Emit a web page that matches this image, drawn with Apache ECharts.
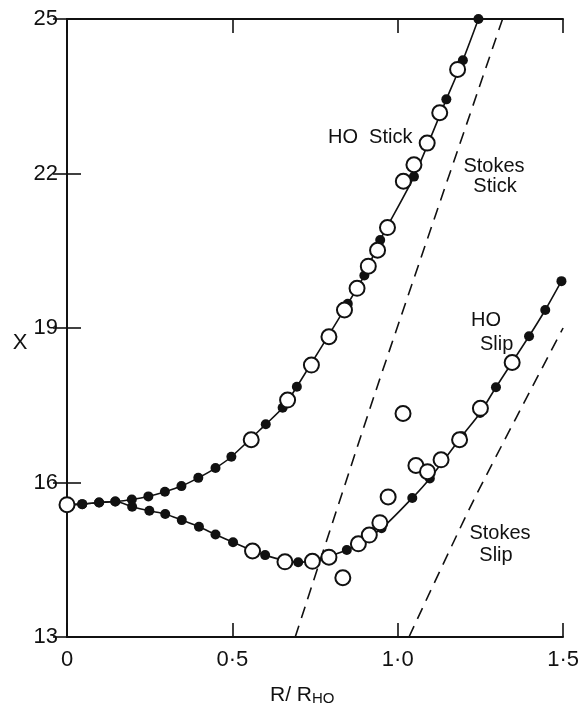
<!DOCTYPE html>
<html>
<head>
<meta charset="utf-8">
<script src="https://cdn.jsdelivr.net/npm/echarts@6/dist/echarts.min.js"></script>
<style>
html,body{margin:0;padding:0;background:#fff;}
#c{width:582px;height:703px;}
</style>
</head>
<body>
<div id="c"></div>
<script>
// Axis ticks
const xTicks = [0, 0.5, 1.0, 1.5];
const xTickLabels = ['0', '0·5', '1·0', '1·5'];
const yTicks = [13, 16, 19, 22, 25];

// Shared start of both HO curves (filled dots)
const sharedX = [0, 0.046, 0.097, 0.146];
const sharedY = [15.57, 15.58, 15.61, 15.63];

// HO Stick branch (filled dots)
const stickX = [0.196, 0.246, 0.296, 0.346, 0.397, 0.449, 0.497, 0.601, 0.652, 0.695, 0.849, 0.899, 0.947, 1.049, 1.147, 1.197, 1.244];
const stickY = [15.67, 15.73, 15.82, 15.93, 16.09, 16.28, 16.50, 17.13, 17.45, 17.86, 19.47, 20.02, 20.71, 21.94, 23.44, 24.20, 25.00];

// HO Slip branch (filled dots)
const slipX = [0.197, 0.249, 0.297, 0.347, 0.399, 0.449, 0.502, 0.599, 0.699, 0.846, 0.951, 1.044, 1.097, 1.194, 1.249, 1.297, 1.397, 1.446, 1.495];
const slipY = [15.53, 15.45, 15.39, 15.27, 15.14, 14.99, 14.84, 14.59, 14.45, 14.69, 15.11, 15.70, 16.08, 16.90, 17.35, 17.85, 18.84, 19.35, 19.91];

// Open circles near the stick branch
const openStickX = [0, 0.557, 0.667, 0.739, 0.792, 0.839, 0.877, 0.911, 0.939, 0.969, 1.017, 1.049, 1.089, 1.127, 1.181];
const openStickY = [15.57, 16.83, 17.60, 18.28, 18.83, 19.35, 19.77, 20.20, 20.51, 20.95, 21.85, 22.17, 22.59, 23.18, 24.02];

// Open circles near the slip branch
const openSlipX = [0.561, 0.659, 0.742, 0.792, 0.834, 0.881, 0.914, 0.946, 0.971, 1.016, 1.055, 1.090, 1.131, 1.187, 1.250, 1.346];
const openSlipY = [14.67, 14.46, 14.47, 14.55, 14.15, 14.81, 14.98, 15.22, 15.72, 17.34, 16.33, 16.21, 16.44, 16.83, 17.44, 18.33];

// Stokes dashed lines
const stokesStickX = [0.69, 0.94, 1.317];
const stokesStickY = [13, 17.9, 25];
const stokesSlipX = [1.034, 1.229, 1.5];
const stokesSlipY = [13, 15.65, 19.0];

const zip = (xs, ys) => xs.map((x, i) => [x, ys[i]]);
const FONT = 'Liberation Sans';
const INK = '#111';

const chart = echarts.init(document.getElementById('c'), null, {renderer: 'canvas'});

const axisLine = {show: true, lineStyle: {color: INK, width: 1.8}};
const tickIn = {show: true, inside: true, length: 14, lineStyle: {color: INK, width: 1.6}};
const txt = (x, y, s, align) => ({type: 'text', x: x, y: y, z: 20,
  style: {text: s, font: '20px ' + FONT, fill: INK, textAlign: align, textVerticalAlign: 'middle'}});

const option = {
  backgroundColor: '#fff',
  animation: false,
  grid: {left: 67, right: 16, top: 19, bottom: 66, containLabel: false},
  xAxis: [
    {
      type: 'value', min: 0, max: 1.5, interval: 0.5,
      axisLine: axisLine, axisTick: tickIn,
      splitLine: {show: false},
      axisLabel: {
        margin: 12, color: INK, fontFamily: FONT, fontSize: 22,
        formatter: v => { const i = xTicks.findIndex(t => Math.abs(t - v) < 1e-9); return i >= 0 ? xTickLabels[i] : ''; }
      }
    },
    {
      type: 'value', position: 'top', min: 0, max: 1.5, interval: 0.5,
      axisLine: axisLine, axisTick: tickIn,
      splitLine: {show: false},
      axisLabel: {show: false}
    }
  ],
  yAxis: [
    {
      type: 'value', min: 13, max: 25, interval: 3,
      axisLine: axisLine, axisTick: tickIn,
      splitLine: {show: false},
      axisLabel: {margin: 9, color: INK, fontFamily: FONT, fontSize: 22,
        formatter: v => yTicks.includes(v) ? String(v) : ''}
    },
    {
      type: 'value', position: 'right', min: 13, max: 25, interval: 3,
      axisLine: axisLine, axisTick: tickIn,
      splitLine: {show: false},
      axisLabel: {show: false}
    }
  ],
  graphic: [
    {type: 'text', x: 20, y: 343, style: {text: 'X', font: '22px ' + FONT, fill: INK, textAlign: 'center', textVerticalAlign: 'middle'}},
    {type: 'text', x: 270, y: 682, style: {
      text: '{a|R/ R}{b|HO}', fill: INK, textAlign: 'left',
      rich: {a: {fontFamily: FONT, fontSize: 21, color: INK, verticalAlign: 'bottom', lineHeight: 24},
             b: {fontFamily: FONT, fontSize: 15, color: INK, verticalAlign: 'bottom', lineHeight: 24}}
    }},
    txt(328, 137, 'HO  Stick', 'left'),
    txt(494, 166, 'Stokes', 'center'),
    txt(495, 186, 'Stick', 'center'),
    txt(471, 320, 'HO', 'left'),
    txt(480, 344, 'Slip', 'left'),
    txt(500, 533, 'Stokes', 'center'),
    txt(496, 555, 'Slip', 'center')
  ],
  series: [
    {
      type: 'line', name: 'Stokes Stick', data: zip(stokesStickX, stokesStickY),
      showSymbol: false, clip: true, smooth: 0.2,
      lineStyle: {color: INK, width: 1.6, type: [12, 8]}, z: 2
    },
    {
      type: 'line', name: 'Stokes Slip', data: zip(stokesSlipX, stokesSlipY),
      showSymbol: false, clip: true, smooth: 0.2,
      lineStyle: {color: INK, width: 1.6, type: [12, 8]}, z: 2
    },
    {
      type: 'line', name: 'HO Stick', data: zip(sharedX.concat(stickX), sharedY.concat(stickY)),
      smooth: 0.25, clip: false, symbol: 'circle', symbolSize: 10,
      itemStyle: {color: INK, opacity: 1}, lineStyle: {color: INK, width: 1.6}, z: 3
    },
    {
      type: 'line', name: 'HO Slip', data: zip(sharedX.concat(slipX), sharedY.concat(slipY)),
      smooth: 0.25, clip: false, symbol: 'circle', symbolSize: 10,
      itemStyle: {color: INK, opacity: 1}, lineStyle: {color: INK, width: 1.6}, z: 3
    },
    {
      type: 'scatter', name: 'open stick', data: zip(openStickX, openStickY),
      symbol: 'circle', symbolSize: 15, clip: false,
      itemStyle: {color: '#fff', borderColor: INK, borderWidth: 2, opacity: 1}, z: 4
    },
    {
      type: 'scatter', name: 'open slip', data: zip(openSlipX, openSlipY),
      symbol: 'circle', symbolSize: 15, clip: false,
      itemStyle: {color: '#fff', borderColor: INK, borderWidth: 2, opacity: 1}, z: 4
    }
  ]
};
chart.setOption(option);
</script>
</body>
</html>
